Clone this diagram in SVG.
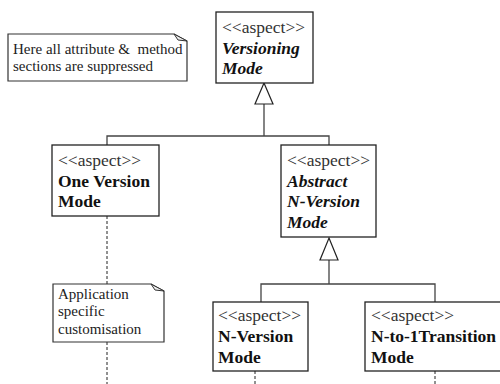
<svg xmlns="http://www.w3.org/2000/svg" width="500" height="384" viewBox="0 0 500 384">
<style>
text{font-family:"Liberation Serif","Times New Roman",Times,serif}
.box{fill:#fff;stroke:#222;stroke-width:1.3}
.note{fill:#fff;stroke:#333;stroke-width:1.2}
.fold{fill:#eee;stroke:#333;stroke-width:1}
.st{font-size:17.5px;fill:#333}
.nm{font-size:17.5px;font-weight:bold;fill:#111}
.ab{font-style:italic}
.nt{font-size:15px;fill:#222}
.ln{fill:none;stroke:#444;stroke-width:1.3}
.tri{fill:#fff;stroke:#222;stroke-width:1.2}
.dash{fill:none;stroke:#222;stroke-width:1;stroke-dasharray:3 2}
</style>
<g id="connectors">
<path class="ln" d="M264,104 V136 M107,145 V136 H329 V145"/>
<path class="tri" d="M264,83 L273,104 L255,104 Z"/>
<path class="ln" d="M329,260 V284 M261,302 V284 H435 V302"/>
<path class="tri" d="M329,238 L338,260 L320,260 Z"/>
<path class="dash" d="M107,216 V284 M107,342 V384 M255,371 V384 M435,371 V384"/>
</g>
<g id="note1">
<path class="note" d="M8,34 H174 L187,41 V81 H8 Z"/>
<path class="fold" d="M174,34 L178,40 L187,41 Z"/>
<text class="nt" x="13" y="54" xml:space="preserve">Here all attribute &amp;  method</text>
<text class="nt" x="13" y="71">sections are suppressed</text>
</g>
<g id="versioning">
<rect class="box" x="216" y="12" width="97" height="71"/>
<text class="st" x="222" y="33">&lt;&lt;aspect&gt;&gt;</text>
<text class="nm ab" x="222" y="53.5">Versioning</text>
<text class="nm ab" x="222" y="74">Mode</text>
</g>
<g id="oneversion">
<rect class="box" x="52" y="145" width="107" height="71"/>
<text class="st" x="58" y="166">&lt;&lt;aspect&gt;&gt;</text>
<text class="nm" x="58" y="186.5">One Version</text>
<text class="nm" x="58" y="207">Mode</text>
</g>
<g id="abstract">
<rect class="box" x="281" y="145" width="95" height="92"/>
<text class="st" x="287" y="166">&lt;&lt;aspect&gt;&gt;</text>
<text class="nm ab" x="287" y="186.5">Abstract</text>
<text class="nm ab" x="287" y="207">N-Version</text>
<text class="nm ab" x="287" y="227.5">Mode</text>
</g>
<g id="note2">
<path class="note" d="M53,284 H151 L164,291 V342 H53 Z"/>
<path class="fold" d="M151,284 L155,290 L164,291 Z"/>
<text class="nt" x="58" y="299">Application</text>
<text class="nt" x="58" y="316">specific</text>
<text class="nt" x="58" y="334">customisation</text>
</g>
<g id="nversion">
<rect class="box" x="213" y="302" width="95" height="69"/>
<text class="st" x="218" y="321">&lt;&lt;aspect&gt;&gt;</text>
<text class="nm" x="218" y="342">N-Version</text>
<text class="nm" x="218" y="362.5">Mode</text>
</g>
<g id="nto1">
<rect class="box" x="365" y="302" width="145" height="69"/>
<text class="st" x="371" y="321">&lt;&lt;aspect&gt;&gt;</text>
<text class="nm" x="371" y="342">N-to-1Transition</text>
<text class="nm" x="371" y="362.5">Mode</text>
</g>
</svg>
